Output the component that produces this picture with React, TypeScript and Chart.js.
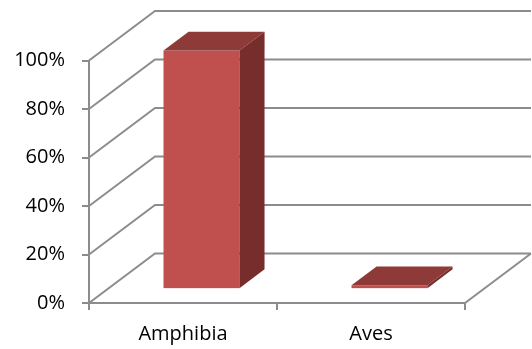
import { useEffect, useRef } from 'react';
import { Chart, registerables } from 'chart.js';

Chart.register(...registerables);

// Share of records per class
const categories = ['Amphibia', 'Aves'];
const shares = [98.4, 1.6];
const yMin = 0;
const yMax = 100;
const yStep = 20;

// Oblique projection of the 3D box: offset from front plane to back wall
const DEPTH_X = 66;
const DEPTH_Y = -49.5;
// Bars sit inside the box: front face depth fraction and bar thickness fraction
const BAR_FRONT = 0.28;
const BAR_DEPTH = 0.38;

const LINE_COLOR = '#8c8c8c';
const LINE_WIDTH = 2;
const FACE_FRONT = '#C0504D';
const FACE_TOP = '#8E3A38';
const FACE_SIDE = '#772D2B';

const boxPlugin = {
  id: 'box3d',
  beforeDatasetsDraw(chart: any) {
    const { ctx, chartArea: a, scales } = chart;
    const y = scales.y;
    ctx.save();
    ctx.strokeStyle = LINE_COLOR;
    ctx.lineWidth = LINE_WIDTH;
    ctx.beginPath();
    y.ticks.forEach((t: any) => {
      const py = y.getPixelForValue(t.value);
      // side wall diagonal, then back wall gridline
      ctx.moveTo(a.left, py);
      ctx.lineTo(a.left + DEPTH_X, py + DEPTH_Y);
      ctx.lineTo(a.right + DEPTH_X, py + DEPTH_Y);
    });
    // right edge of the floor
    ctx.moveTo(a.right, a.bottom);
    ctx.lineTo(a.right + DEPTH_X, a.bottom + DEPTH_Y);
    ctx.stroke();
    ctx.restore();
  },
  afterDatasetsDraw(chart: any) {
    const { ctx } = chart;
    const meta = chart.getDatasetMeta(0);
    const ox = DEPTH_X * BAR_FRONT;
    const oy = DEPTH_Y * BAR_FRONT;
    const dx = DEPTH_X * BAR_DEPTH;
    const dy = DEPTH_Y * BAR_DEPTH;
    ctx.save();
    meta.data.forEach((bar: any) => {
      const { x, y, base, width } = bar.getProps(['x', 'y', 'base', 'width'], true);
      const l = x - width / 2 + ox;
      const r = x + width / 2 + ox;
      const t = y + oy;
      const b = base + oy;
      // front face
      ctx.fillStyle = FACE_FRONT;
      ctx.fillRect(l, t, r - l, b - t);
      // top face
      ctx.fillStyle = FACE_TOP;
      ctx.beginPath();
      ctx.moveTo(l, t);
      ctx.lineTo(l + dx, t + dy);
      ctx.lineTo(r + dx, t + dy);
      ctx.lineTo(r, t);
      ctx.closePath();
      ctx.fill();
      // right side face
      ctx.fillStyle = FACE_SIDE;
      ctx.beginPath();
      ctx.moveTo(r, t);
      ctx.lineTo(r + dx, t + dy);
      ctx.lineTo(r + dx, b + dy);
      ctx.lineTo(r, b);
      ctx.closePath();
      ctx.fill();
    });
    ctx.restore();
  },
};

export default function App() {
  const canvasRef = useRef<HTMLCanvasElement | null>(null);

  useEffect(() => {
    const canvas = canvasRef.current;
    if (!canvas) return;
    const font = { family: "'Open Sans', sans-serif", size: 20 };
    const chart = new Chart(canvas, {
      type: 'bar',
      data: {
        labels: categories,
        datasets: [
          {
            data: shares,
            backgroundColor: 'rgba(0,0,0,0)',
            borderWidth: 0,
            categoryPercentage: 1,
            barPercentage: 0.404,
          },
        ],
      },
      options: {
        responsive: false,
        animation: false,
        layout: { padding: { left: 0, right: 67, top: 60.5, bottom: 0 } },
        plugins: { legend: { display: false }, tooltip: { enabled: false } },
        scales: {
          x: {
            offset: true,
            grid: {
              offset: true,
              drawOnChartArea: false,
              drawTicks: true,
              tickLength: 7,
              color: LINE_COLOR,
              lineWidth: LINE_WIDTH,
            },
            border: { display: true, color: LINE_COLOR, width: LINE_WIDTH },
            ticks: { color: '#000', font, padding: 12, maxRotation: 0 },
            afterFit(scale: any) {
              scale.height = 46;
            },
          },
          y: {
            min: yMin,
            max: yMax,
            grid: {
              drawOnChartArea: false,
              drawTicks: true,
              tickLength: 7,
              color: LINE_COLOR,
              lineWidth: LINE_WIDTH,
            },
            border: { display: true, color: LINE_COLOR, width: LINE_WIDTH },
            ticks: {
              stepSize: yStep,
              color: '#000',
              font,
              padding: 17,
              callback: (v: any) => `${v}%`,
            },
            afterFit(scale: any) {
              scale.width = 89;
            },
          },
        },
      },
      plugins: [boxPlugin],
    });
    return () => chart.destroy();
  }, []);

  return (
    <div style={{ position: 'absolute', left: 0, top: 0, width: 532, height: 349, background: '#fff' }}>
      <canvas ref={canvasRef} width={532} height={349} />
    </div>
  );
}
